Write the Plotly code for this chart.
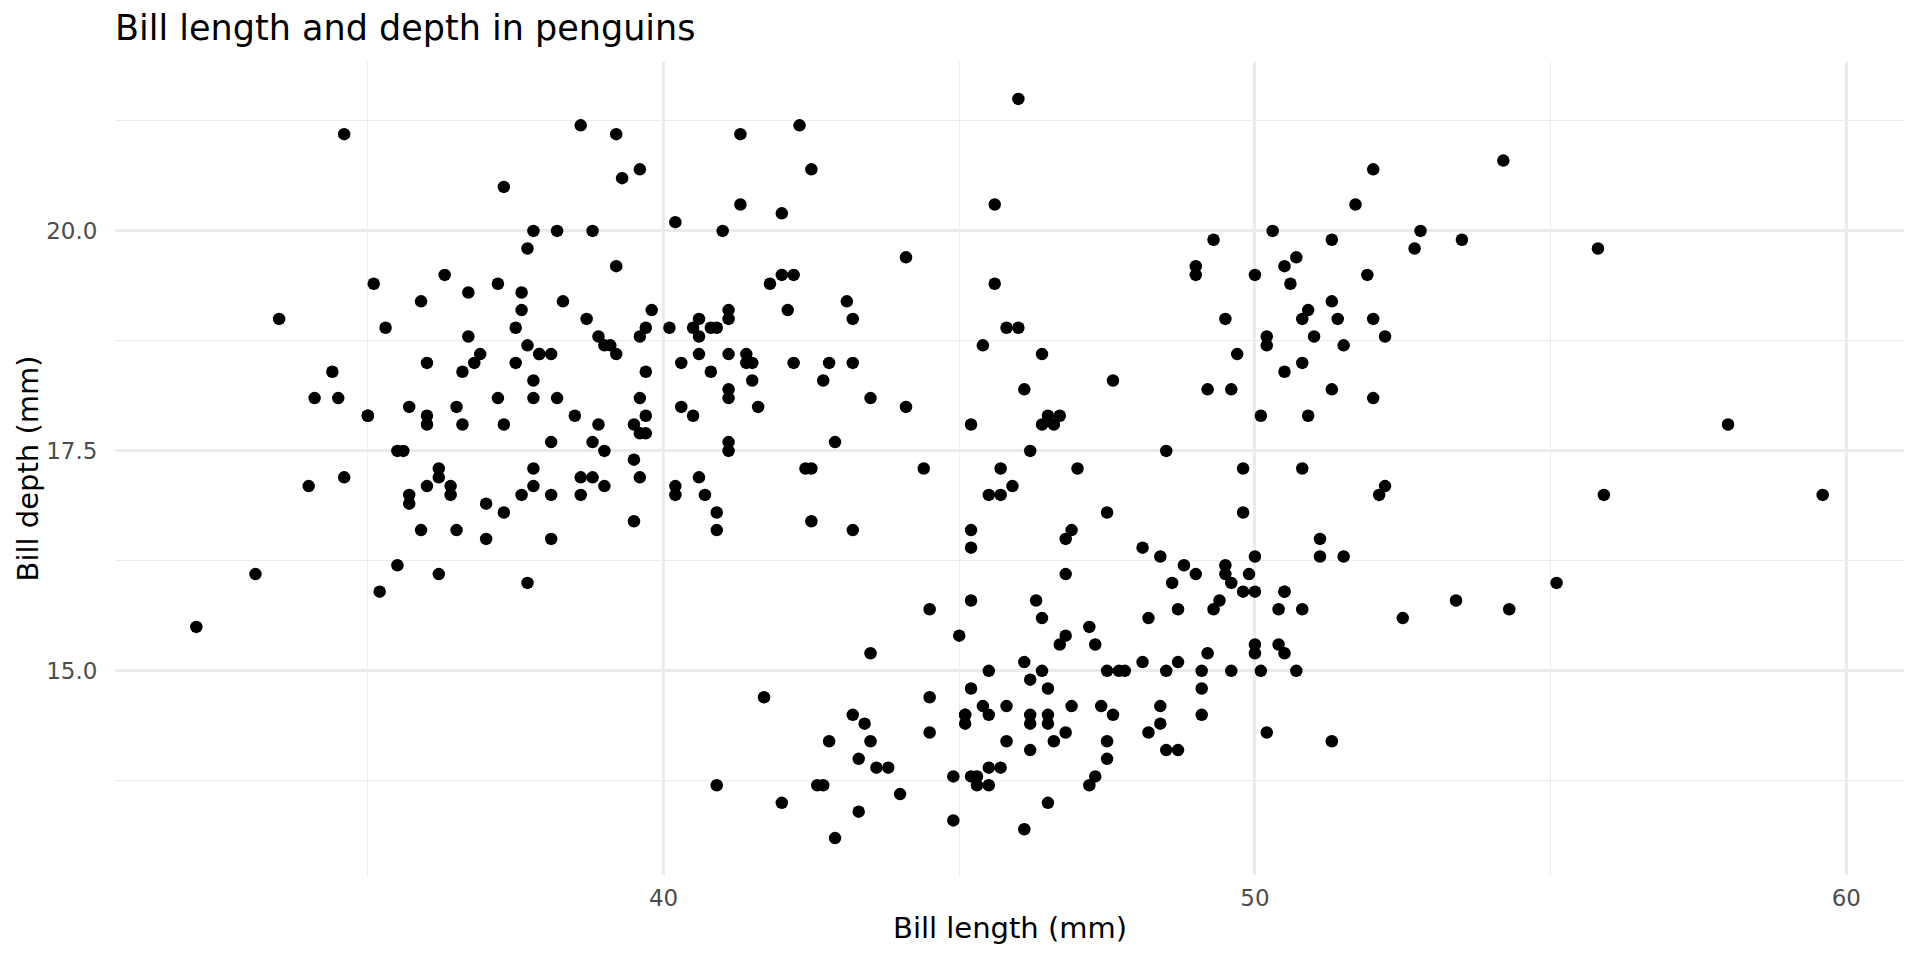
import plotly.graph_objects as go

# Adelie
adelie_length = [39.1, 39.5, 40.3, 36.7, 39.3, 38.9, 39.2, 34.1, 42.0, 37.8, 37.8, 41.1, 38.6, 34.6, 36.6, 38.7, 42.5, 34.4, 46.0, 37.8,
                 37.7, 35.9, 38.2, 38.8, 35.3, 40.6, 40.5, 37.9, 40.5, 39.5, 37.2, 39.5, 40.9, 36.4, 39.2, 38.8, 42.2, 37.6, 39.8, 36.5,
                 40.8, 36.0, 44.1, 37.0, 39.6, 41.1, 37.5, 36.0, 42.3, 39.6, 40.1, 35.0, 42.0, 34.5, 41.4, 39.0, 40.6, 36.5, 37.6, 35.7,
                 41.3, 37.6, 41.1, 36.4, 41.6, 35.5, 41.1, 35.9, 41.8, 33.5, 39.7, 39.6, 45.8, 35.5, 42.8, 40.9, 37.2, 36.2, 42.1, 34.6,
                 42.9, 36.7, 35.1, 37.3, 41.3, 36.3, 36.9, 38.3, 38.9, 35.7, 41.1, 34.0, 39.6, 36.2, 40.8, 38.1, 40.3, 33.1, 43.2, 35.0,
                 41.0, 37.7, 37.8, 37.9, 39.7, 38.6, 38.2, 38.1, 43.2, 38.1, 45.6, 39.7, 42.2, 39.6, 42.7, 38.6, 37.3, 35.7, 41.1, 36.2,
                 37.7, 40.2, 41.4, 35.2, 40.6, 38.8, 41.5, 39.0, 44.1, 38.5, 43.1, 36.8, 37.5, 38.1, 41.1, 35.6, 40.2, 37.0, 39.7, 40.2,
                 40.6, 32.1, 40.7, 37.3, 39.0, 39.2, 36.6, 36.0, 37.8, 36.0, 41.5]
adelie_depth = [18.7, 17.4, 18.0, 19.3, 20.6, 17.8, 19.6, 18.1, 20.2, 17.1, 17.3, 17.6, 21.2, 21.1, 17.8, 19.0, 20.7, 18.4, 21.5, 18.3,
                18.7, 19.2, 18.1, 17.2, 18.9, 18.6, 17.9, 18.6, 18.9, 16.7, 18.1, 17.8, 18.9, 17.0, 21.1, 20.0, 18.5, 19.3, 19.1, 18.0,
                18.4, 18.5, 19.7, 16.9, 18.8, 19.0, 18.9, 17.9, 21.2, 17.7, 18.9, 17.9, 19.5, 18.1, 18.6, 17.5, 18.8, 16.6, 19.1, 16.9,
                21.1, 17.0, 18.2, 17.1, 18.0, 16.2, 19.1, 16.6, 19.4, 19.0, 18.4, 17.2, 18.9, 17.5, 18.5, 16.8, 19.4, 16.1, 19.1, 17.2,
                17.6, 18.8, 19.4, 17.8, 20.3, 19.5, 18.6, 19.2, 18.8, 18.0, 18.1, 17.1, 18.1, 17.3, 18.9, 18.6, 18.5, 16.1, 18.5, 17.9,
                20.0, 16.0, 20.0, 18.6, 18.9, 17.2, 20.0, 17.0, 19.0, 16.5, 20.3, 17.7, 19.5, 20.7, 18.3, 17.0, 20.5, 17.0, 18.6, 17.2,
                19.8, 17.0, 18.5, 15.9, 19.0, 17.6, 18.3, 17.1, 18.0, 17.9, 19.2, 18.5, 18.5, 17.6, 17.5, 17.5, 20.1, 16.5, 17.9, 17.1,
                17.2, 15.5, 17.0, 16.8, 18.7, 18.6, 18.4, 17.8, 18.1, 17.1, 18.5]

# Gentoo
gentoo_length = [46.1, 50.0, 48.7, 50.0, 47.6, 46.5, 45.4, 46.7, 43.3, 46.8, 40.9, 49.0, 45.5, 48.4, 45.8, 49.3, 42.0, 49.2, 46.2, 48.7,
                 50.2, 45.1, 46.5, 46.3, 42.9, 46.1, 44.5, 47.8, 48.2, 50.0, 47.3, 42.8, 45.1, 59.6, 49.1, 48.4, 42.6, 44.4, 44.0, 48.7,
                 42.7, 49.6, 45.3, 49.6, 50.5, 43.6, 45.5, 50.5, 44.9, 45.2, 46.6, 48.5, 45.1, 50.1, 46.5, 45.0, 43.8, 45.5, 43.2, 50.4,
                 45.3, 46.2, 45.7, 54.3, 45.8, 49.8, 46.2, 49.5, 43.5, 50.7, 47.7, 46.4, 48.2, 46.5, 46.4, 48.6, 47.5, 51.1, 45.2, 45.2,
                 49.1, 52.5, 47.4, 50.0, 44.9, 50.8, 43.4, 51.3, 47.5, 52.1, 47.5, 52.2, 45.5, 49.5, 44.5, 50.8, 49.4, 46.9, 48.4, 51.1,
                 48.5, 55.9, 47.2, 49.1, 47.3, 46.8, 41.7, 53.4, 43.3, 48.1, 50.5, 49.8, 43.5, 51.5, 46.2, 55.1, 44.5, 48.8, 47.2, 46.8,
                 50.4, 45.2, 49.9]
gentoo_depth = [13.2, 16.3, 14.1, 15.2, 14.5, 13.5, 14.6, 15.3, 13.4, 15.4, 13.7, 16.1, 13.7, 14.6, 14.6, 15.7, 13.5, 15.2, 14.5, 15.1,
                14.3, 14.5, 14.5, 15.8, 13.1, 15.1, 14.3, 15.0, 14.3, 15.3, 15.3, 14.2, 14.5, 17.0, 14.8, 16.3, 13.7, 17.3, 13.6, 15.7,
                13.7, 16.0, 13.7, 15.0, 15.9, 13.9, 13.9, 15.9, 13.3, 15.8, 14.2, 14.1, 14.4, 15.0, 14.4, 15.4, 13.9, 15.0, 14.5, 15.3,
                13.8, 14.9, 13.9, 15.7, 14.2, 16.8, 14.4, 16.2, 14.2, 15.0, 15.0, 15.6, 15.6, 14.8, 15.0, 16.0, 14.2, 16.3, 13.8, 16.4,
                14.5, 15.6, 14.6, 15.9, 13.8, 17.3, 14.4, 14.2, 14.0, 17.0, 15.0, 17.1, 14.5, 16.1, 14.7, 15.7, 15.8, 14.6, 14.4, 16.5,
                15.0, 17.0, 15.5, 15.0, 13.8, 16.1, 14.7, 15.8, 14.0, 15.1, 15.2, 15.9, 15.2, 16.3, 14.1, 16.0, 15.7, 16.2, 13.7, 14.3,
                15.7, 14.8, 16.1]

# Chinstrap
chinstrap_length = [46.5, 50.0, 51.3, 45.4, 52.7, 45.2, 46.1, 51.3, 46.0, 51.3, 46.6, 51.7, 47.0, 52.0, 45.9, 50.5, 50.3, 58.0, 46.4, 49.2,
                    42.4, 48.5, 43.2, 50.6, 46.7, 52.0, 50.5, 49.5, 46.4, 52.8, 40.9, 54.2, 42.5, 51.0, 49.7, 47.5, 47.6, 52.0, 46.9, 53.5,
                    49.0, 46.2, 50.9, 45.5, 50.9, 50.8, 50.1, 49.0, 51.5, 49.8, 48.1, 51.4, 45.7, 50.7, 42.5, 52.2, 45.2, 49.3, 50.2, 45.6,
                    51.9, 46.8, 45.7, 55.8, 43.5, 49.6, 50.8, 50.2]
chinstrap_depth = [17.9, 19.5, 19.2, 18.7, 19.8, 17.8, 18.2, 18.2, 18.9, 19.9, 17.8, 20.3, 17.3, 18.1, 17.1, 19.6, 20.0, 17.8, 18.6, 18.2,
                   17.3, 17.5, 16.6, 19.4, 17.9, 19.0, 18.4, 19.0, 17.8, 20.0, 16.6, 20.8, 16.7, 18.8, 18.6, 16.8, 18.3, 20.7, 16.6, 19.9,
                   19.5, 17.5, 19.1, 17.0, 17.9, 18.5, 17.9, 19.6, 18.7, 17.3, 16.4, 19.0, 17.3, 19.7, 17.3, 18.8, 16.6, 19.9, 18.8, 19.4,
                   19.5, 16.5, 17.0, 19.8, 18.1, 18.2, 19.0, 18.7]

bill_length = adelie_length + gentoo_length + chinstrap_length
bill_depth = adelie_depth + gentoo_depth + chinstrap_depth

x_ticks = [40, 50, 60]
y_ticks = [15.0, 17.5, 20.0]
y_tick_labels = ["15.0", "17.5", "20.0"]

title_text = "Bill length and depth in penguins"
x_title = "Bill length (mm)"
y_title = "Bill depth (mm)"

FONT = "DejaVu Sans"
OFF = 8  # page body margin offset compensation

fig = go.Figure()
fig.add_trace(go.Scatter(
    x=bill_length, y=bill_depth, mode="markers",
    marker=dict(color="black", size=12.5, line=dict(width=0)),
    showlegend=False, hoverinfo="x+y",
))

xmin, xmax = min(bill_length), max(bill_length)
ymin, ymax = min(bill_depth), max(bill_depth)
xpad = (xmax - xmin) * 0.05
ypad = (ymax - ymin) * 0.05

fig.update_layout(
    width=1920, height=960,
    paper_bgcolor="white", plot_bgcolor="white",
    margin=dict(l=115 - OFF, r=16 + OFF, t=62 - OFF, b=85 + OFF),
    font=dict(family=FONT, color="black"),
    title=dict(text=title_text, x=(115 - OFF) / 1920, xref="container", xanchor="left",
               y=1 - (28 - OFF) / 960, yref="container", yanchor="middle",
               font=dict(size=35, family=FONT, color="black")),
)
fig.update_xaxes(
    range=[xmin - xpad, xmax + xpad],
    tickmode="array", tickvals=x_ticks, ticktext=[str(v) for v in x_ticks],
    tickfont=dict(size=23, color="#4D4D4D", family=FONT),
    ticks="outside", ticklen=2, tickcolor="rgba(0,0,0,0)",
    showgrid=True, gridcolor="#EBEBEB", gridwidth=2.6,
    minor=dict(tickmode="array", tickvals=[35, 45, 55], showgrid=True, gridcolor="#EBEBEB", gridwidth=1.3),
    zeroline=False, showline=False,
)
fig.update_yaxes(
    range=[ymin - ypad, ymax + ypad],
    tickmode="array", tickvals=y_ticks, ticktext=y_tick_labels,
    tickfont=dict(size=23, color="#4D4D4D", family=FONT),
    ticks="outside", ticklen=12, tickcolor="rgba(0,0,0,0)",
    showgrid=True, gridcolor="#EBEBEB", gridwidth=2.6,
    minor=dict(tickmode="array", tickvals=[13.75, 16.25, 18.75, 21.25], showgrid=True, gridcolor="#EBEBEB", gridwidth=1.3),
    zeroline=False, showline=False,
)

fig.add_annotation(text=x_title, xref="paper", yref="paper", x=0.5, y=0,
                   yshift=-53, xanchor="center", yanchor="middle", showarrow=False,
                   font=dict(size=29, family=FONT, color="black"))
fig.add_annotation(text=y_title, xref="paper", yref="paper", x=0, y=0.5,
                   xshift=-88, xanchor="center", yanchor="middle", showarrow=False, textangle=-90,
                   font=dict(size=29, family=FONT, color="black"))

fig.write_html("out.html")
